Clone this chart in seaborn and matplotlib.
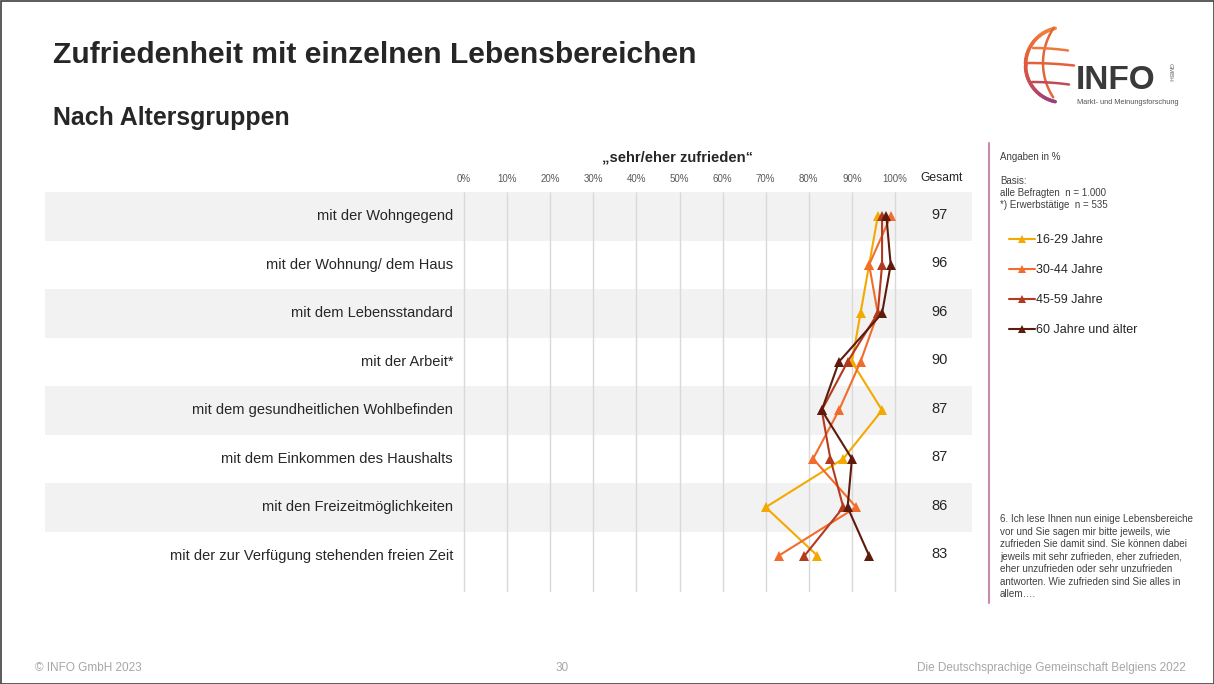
import numpy as np
import pandas as pd
import matplotlib
matplotlib.use("Agg")
import matplotlib.pyplot as plt
from matplotlib.patches import Rectangle
import seaborn as sns

# ------------------------------------------------------------
# Daten
# ------------------------------------------------------------
bereiche = [
    "mit der Wohngegend",
    "mit der Wohnung/ dem Haus",
    "mit dem Lebensstandard",
    "mit der Arbeit*",
    "mit dem gesundheitlichen Wohlbefinden",
    "mit dem Einkommen des Haushalts",
    "mit den Freizeitmöglichkeiten",
    "mit der zur Verfügung stehenden freien Zeit",
]
gesamt = [97, 96, 96, 90, 87, 87, 86, 83]
altersgruppen = ["16-29 Jahre", "30-44 Jahre", "45-59 Jahre", "60 Jahre und älter"]
werte_16_29 = [96, 94, 92, 90, 97, 88, 70, 82]
werte_30_44 = [99, 94, 96, 92, 87, 81, 91, 73]
werte_45_59 = [97, 97, 96, 89, 83, 85, 88, 79]
werte_60_plus = [98, 99, 97, 87, 83, 90, 89, 94]
farben = ["#f4a900", "#f26c2c", "#b43a1d", "#5e1a0c"]
ticks = list(range(0, 101, 10))

rows = []
for gruppe, werte in zip(altersgruppen, [werte_16_29, werte_30_44, werte_45_59, werte_60_plus]):
    for pos, w in enumerate(werte):
        rows.append({"gruppe": gruppe, "pos": pos, "wert": w})
df = pd.DataFrame(rows)

# ------------------------------------------------------------
# Layout (Pixel)
# ------------------------------------------------------------
W, H = 1214, 684
X0, X100 = 464, 895          # Pixel von 0% und 100%
PX = (X100 - X0) / 100.0
TOP, BOTTOM = 192, 592
ROW = 48.5
DUNKEL = "#262626"
GRAU = "#a6a6a6"

sns.set_theme(style="white")
plt.rcParams["font.family"] = ["Liberation Sans", "DejaVu Sans"]

fig = plt.figure(figsize=(W / 100, H / 100), dpi=100)
fig.patch.set_facecolor("white")

ax = fig.add_axes([45 / W, 1 - BOTTOM / H, (972 - 45) / W, (BOTTOM - TOP) / H])
ax.set_xlim((45 - X0) / PX, (972 - X0) / PX)
ax.set_ylim(-0.5 + (BOTTOM - TOP) / ROW, -0.5)

for i in range(0, len(bereiche), 2):
    ax.axhspan(i - 0.5, i + 0.5, color="#f2f2f2", lw=0, zorder=0)
ax.vlines(ticks, -0.5, ax.get_ylim()[0], color="#d9d9d9", lw=1, zorder=1)

sns.lineplot(data=df, x="wert", y="pos", hue="gruppe", palette=farben,
             marker="^", markersize=6.5, markeredgewidth=0, lw=1.5,
             sort=False, orient="y", estimator=None, ax=ax, zorder=3)

handles, labels = ax.get_legend_handles_labels()
ax.get_legend().remove()
for h in handles:
    h.set_markersize(5.5)

ax.xaxis.tick_top()
ax.set_xticks(ticks)
ax.set_xticklabels([f"{t}%" for t in ticks], fontsize=7, color="#595959")
ax.tick_params(axis="x", length=0, pad=6)
ax.set_yticks([])
ax.set_xlabel("")
ax.set_ylabel("")
for s in ax.spines.values():
    s.set_visible(False)

for i, (b, g) in enumerate(zip(bereiche, gesamt)):
    ax.text((453 - X0) / PX, i, b, ha="right", va="center", fontsize=10.5, color=DUNKEL)
    ax.text((940 - X0) / PX, i - 0.03, str(g), ha="center", va="center", fontsize=10.5, color=DUNKEL)

fig.legend(handles, labels, loc="upper left", bbox_to_anchor=(1009 / W, 1 - 234 / H),
           frameon=False, fontsize=9, labelspacing=1.45, handlelength=2.1,
           handletextpad=0.1, borderaxespad=0, borderpad=0, labelcolor=DUNKEL)

# ------------------------------------------------------------
# Texte und Dekoration
# ------------------------------------------------------------
deco = fig.add_axes([0, 0, 1, 1], zorder=5)
deco.set_xlim(0, W)
deco.set_ylim(H, 0)
deco.axis("off")
deco.patch.set_alpha(0)

deco.add_patch(Rectangle((0.5, 0.5), W - 1, H - 1, fill=False, ec="#404040", lw=1.2))

deco.text(53, 55, "Zufriedenheit mit einzelnen Lebensbereichen", fontsize=21.6,
          fontweight="bold", color=DUNKEL, va="center")
deco.text(53, 118, "Nach Altersgruppen", fontsize=17.9, fontweight="bold",
          color=DUNKEL, va="center")

deco.text(677, 157, "„sehr/eher zufrieden“", ha="center", va="center",
          fontsize=10.6, fontweight="bold", color=DUNKEL)
deco.text(942, 178, "Gesamt", ha="center", va="center", fontsize=8.7, color=DUNKEL)

deco.plot([989, 989], [143, 603], color="#c58bb0", lw=1.5)
klein = dict(fontsize=7, color="#404040", va="center")
deco.text(1000, 157, "Angaben in %", **klein)
deco.text(1000, 181, "Basis:", **klein)
deco.text(1000, 193, "alle Befragten  n = 1.000", **klein)
deco.text(1000, 205, "*) Erwerbstätige  n = 535", **klein)

frage = ("6. Ich lese Ihnen nun einige Lebensbereiche\n"
         "vor und Sie sagen mir bitte jeweils, wie\n"
         "zufrieden Sie damit sind. Sie können dabei\n"
         "jeweils mit sehr zufrieden, eher zufrieden,\n"
         "eher unzufrieden oder sehr unzufrieden\n"
         "antworten. Wie zufrieden sind Sie alles in\n"
         "allem….")
deco.text(1000, 514, frage, fontsize=7.1, color="#404040", va="top", linespacing=1.32)

deco.text(35, 668, "© INFO GmbH 2023", fontsize=8.5, color=GRAU, va="center")
deco.text(562, 668, "30", fontsize=8.5, color=GRAU, va="center", ha="center")
deco.text(1186, 668, "Die Deutschsprachige Gemeinschaft Belgiens 2022", fontsize=8.5,
          color=GRAU, va="center", ha="right")

# Logo
cx, cy, r = 1063, 65, 37.5
ang = np.linspace(np.radians(102), np.radians(258), 40)
logo_cmap = matplotlib.colors.LinearSegmentedColormap.from_list("logo", ["#f28a3a", "#e2583c", "#9c3d7c"])
for k in range(len(ang) - 1):
    a = ang[k:k + 2]
    deco.plot(cx + r * np.cos(a), cy - r * np.sin(a), color=logo_cmap(k / (len(ang) - 2)),
              lw=2.6, solid_capstyle="round")
mx, my, mr = 1106, 63, 63
ang2 = np.linspace(np.radians(146), np.radians(213), 30)
deco.plot(mx + mr * np.cos(ang2), my - mr * np.sin(ang2), color="#e2663a", lw=1.8)
for ly, xa, xb, c in [(48, 1033, 1068, "#ee7a3a"), (63, 1028, 1074, "#e2603b"), (82, 1032, 1069, "#c44b55")]:
    xs = np.linspace(xa, xb, 20)
    deco.plot(xs, ly + 2.5 * ((xs - xa) / (xb - xa)) ** 2, color=c, lw=1.8)
deco.text(1076, 89, "INFO", fontsize=24, fontweight="heavy", color="#3a3a3a", va="baseline")
deco.text(1170, 72, "GMBH", fontsize=4.5, color="#666666", rotation=270, ha="center", va="center")
deco.text(1077, 103, "Markt- und Meinungsforschung", fontsize=5.3, color="#555555", va="center")

fig.savefig("out.png", dpi=100)
